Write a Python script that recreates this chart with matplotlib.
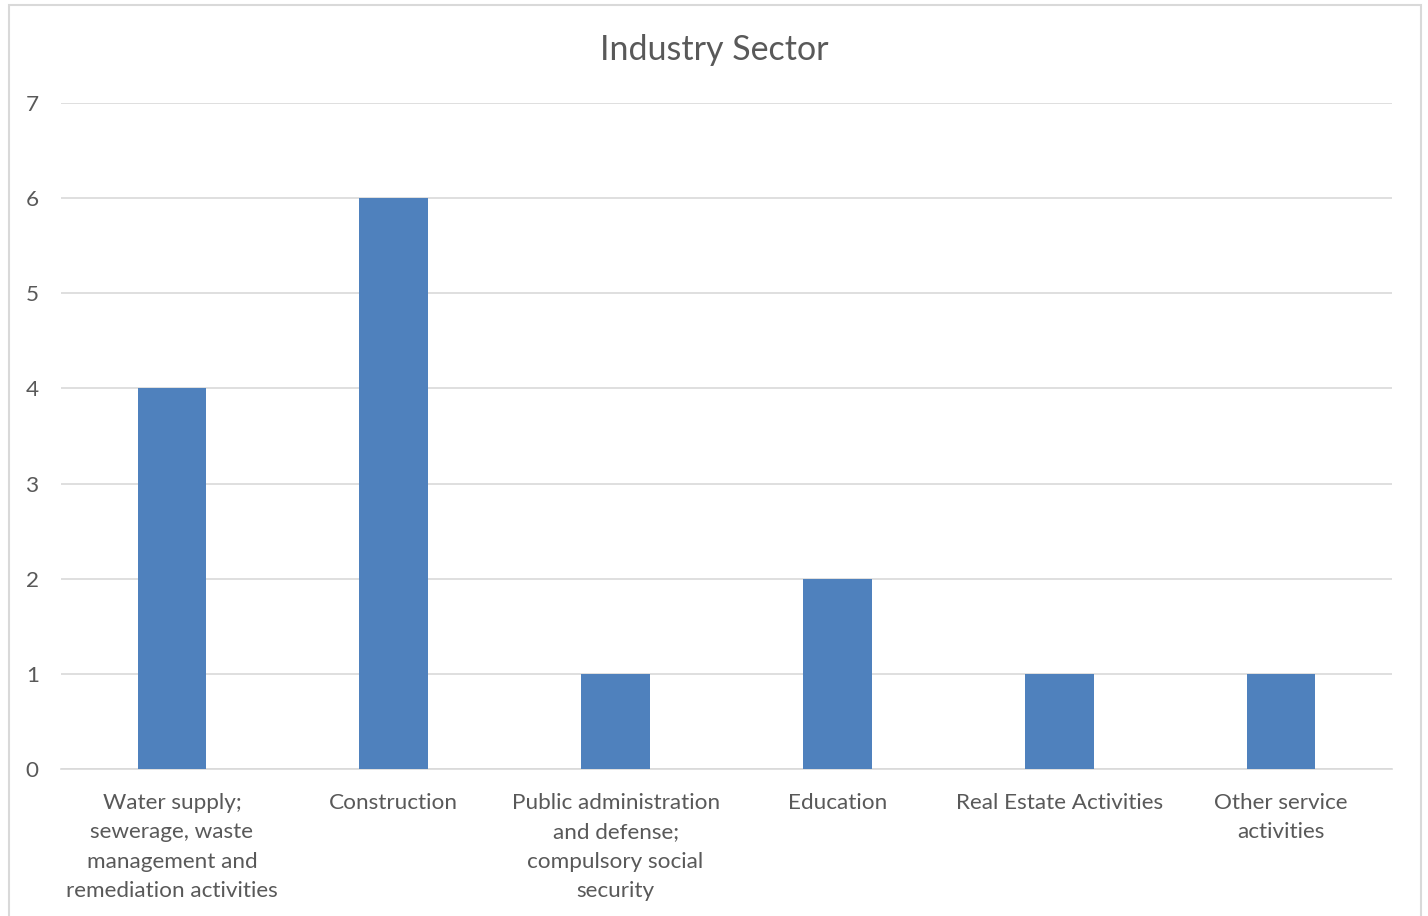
import matplotlib
matplotlib.use('Agg')
import matplotlib.pyplot as plt
from matplotlib.patches import Rectangle

categories = ['Water supply;\nsewerage, waste\nmanagement and\nremediation activities',
              'Construction',
              'Public administration\nand defense;\ncompulsory social\nsecurity',
              'Education',
              'Real Estate Activities',
              'Other service\nactivities']
counts = [4, 6, 1, 2, 1, 1]
yticks = [0, 1, 2, 3, 4, 5, 6, 7]

plt.rcParams['font.family'] = ['Lato', 'DejaVu Sans']
text_color = '#595959'

fig = plt.figure(figsize=(14.28, 9.16), dpi=100)
# outer chart border
fig.patches.append(Rectangle((9 / 1428, -0.01), 1412 / 1428, 1 - 5 / 916 + 0.01,
                             transform=fig.transFigure, fill=False,
                             edgecolor='#D9D9D9', linewidth=1.5))

ax = fig.add_axes([61 / 1428, 147 / 916, 1331 / 1428, 666 / 916])
x = range(len(categories))
ax.bar(x, counts, width=0.31, color='#4F81BD', zorder=3)
ax.set_xlim(-0.5, len(categories) - 0.5)
ax.set_ylim(0, 7)
ax.set_yticks(yticks)
ax.set_xticks(list(x))
ax.set_xticklabels(categories, fontsize=16.2, color=text_color, linespacing=1.6)
ax.tick_params(axis='y', labelsize=16.2, colors=text_color, length=0, pad=16)
ax.tick_params(axis='x', length=0, pad=17)
ax.grid(axis='y', color='#D9D9D9', linewidth=1.2, zorder=0)
for side in ['top', 'right', 'left']:
    ax.spines[side].set_visible(False)
ax.spines['bottom'].set_color('#D9D9D9')
ax.spines['bottom'].set_linewidth(1.2)

fig.text(0.5, 1 - 50 / 916, 'Industry Sector', ha='center', va='center',
         fontsize=24.5, color=text_color)

fig.savefig('out.png', dpi=100)
